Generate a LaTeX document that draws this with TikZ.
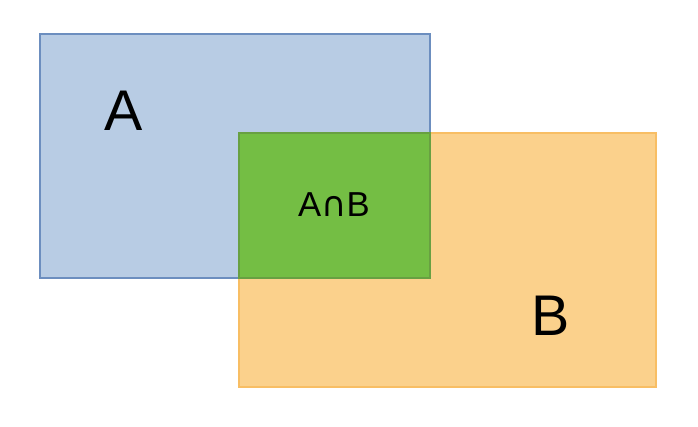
\documentclass[tikz,border=0pt]{standalone}
\usepackage{fontspec}
\setmainfont{Liberation Sans}
\newfontfamily\symfont{DejaVu Sans}
\definecolor{setAfill}{RGB}{184,204,228}
\definecolor{setAdraw}{RGB}{108,142,191}
\definecolor{setBfill}{RGB}{251,209,140}
\definecolor{setBdraw}{RGB}{248,190,100}
\definecolor{capfill}{RGB}{116,190,68}
\definecolor{capdraw}{RGB}{104,160,66}
\tikzset{
  setlabel/.style={inner sep=0.75pt,font=\fontsize{43}{48}\selectfont},
  caplabel/.style={inner sep=0.75pt,font=\fontsize{26}{30}\selectfont}
}
\begin{document}
\begin{tikzpicture}[x=0.75pt,y=0.75pt,yscale=-1]
\useasboundingbox (0,0) rectangle (698,426);

%Shape: Rectangle A
\draw [color=setAdraw,fill=setAfill,line width=0.9pt] (40,34) rectangle (430,278);
%Shape: Rectangle B
\draw [color=setBdraw,fill=setBfill,line width=0.9pt] (239,133) rectangle (656,387);
%Shape: Intersection
\draw [color=capdraw,fill=capfill,line width=0.9pt] (239,133) rectangle (430,278);

% Text Node
\node [setlabel] (lblA) at (124,111) {A};
% Text Node
\node [setlabel] (lblB) at (551,316) {B};
% Text Node
\node [caplabel] (lblAB) at (334,205) {A{\symfont ∩}B};

\end{tikzpicture}
\end{document}
